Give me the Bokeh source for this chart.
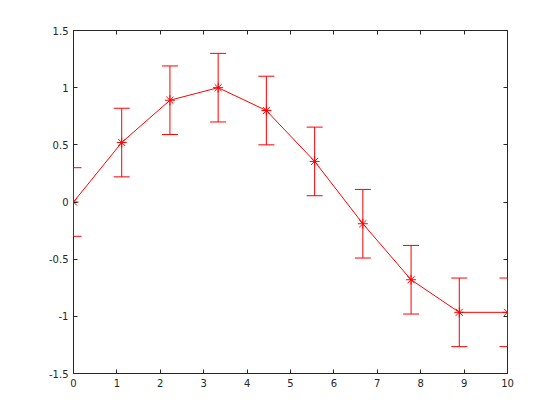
from bokeh.plotting import figure
from bokeh.models import (ColumnDataSource, Whisker, TeeHead, LinearAxis, FixedTicker,
                          CustomJSTickFormatter, Range1d)
from bokeh.embed import file_html
from bokeh.resources import INLINE

# data
x_vals = [0.0, 1.111, 2.222, 3.333, 4.444, 5.556, 6.667, 7.778, 8.889, 10.0]
y_vals = [0.0, 0.52, 0.89, 1.0, 0.80, 0.355, -0.19, -0.68, -0.965, -0.965]
err_vals = [0.3, 0.3, 0.3, 0.3, 0.3, 0.3, 0.3, 0.3, 0.3, 0.3]
x_ticks = [0, 1, 2, 3, 4, 5, 6, 7, 8, 9, 10]
y_ticks = [-1.5, -1, -0.5, 0, 0.5, 1, 1.5]

RED = "#ff0000"
AX = "#262626"
FONT = "DejaVu Sans"

src = ColumnDataSource(dict(
    x=x_vals, y=y_vals,
    upper=[y + e for y, e in zip(y_vals, err_vals)],
    lower=[y - e for y, e in zip(y_vals, err_vals)],
))

p = figure(frame_width=434, frame_height=343, width=537, height=418,
           output_backend="svg", toolbar_location=None,
           x_range=Range1d(0, 10), y_range=Range1d(-1.5, 1.5),
           min_border_left=73, min_border_top=30, min_border_right=30, min_border_bottom=45)
p.background_fill_color = "white"
p.border_fill_color = "white"
p.outline_line_color = AX
p.outline_line_width = 1
p.xgrid.visible = False
p.ygrid.visible = False

def style(ax, ticks, labels=True):
    ax.ticker = FixedTicker(ticks=ticks)
    ax.formatter = CustomJSTickFormatter(code="return String(tick);" if labels else 'return "";')
    ax.axis_line_color = None
    ax.major_tick_in = 4
    ax.major_tick_out = 0
    ax.major_tick_line_color = AX
    ax.minor_tick_line_color = None
    ax.major_label_text_font = FONT
    ax.major_label_text_font_size = "10px"
    ax.major_label_text_color = AX
    ax.major_label_standoff = 5 if labels else 0

style(p.xaxis[0], x_ticks)
style(p.yaxis[0], y_ticks)
top = LinearAxis()
right = LinearAxis()
style(top, x_ticks, labels=False)
style(right, y_ticks, labels=False)
p.add_layout(top, "above")
p.add_layout(right, "right")

w = Whisker(base="x", upper="upper", lower="lower", source=src, dimension="height",
            line_color=RED, line_width=1,
            upper_head=TeeHead(size=16, line_color=RED, line_width=1),
            lower_head=TeeHead(size=16, line_color=RED, line_width=1))
p.add_layout(w)

p.line("x", "y", source=src, line_color=RED, line_width=1)
p.scatter("x", "y", source=src, marker="asterisk", size=10, line_color=RED, line_width=1)

open("out.html", "w").write(file_html(p, INLINE))
